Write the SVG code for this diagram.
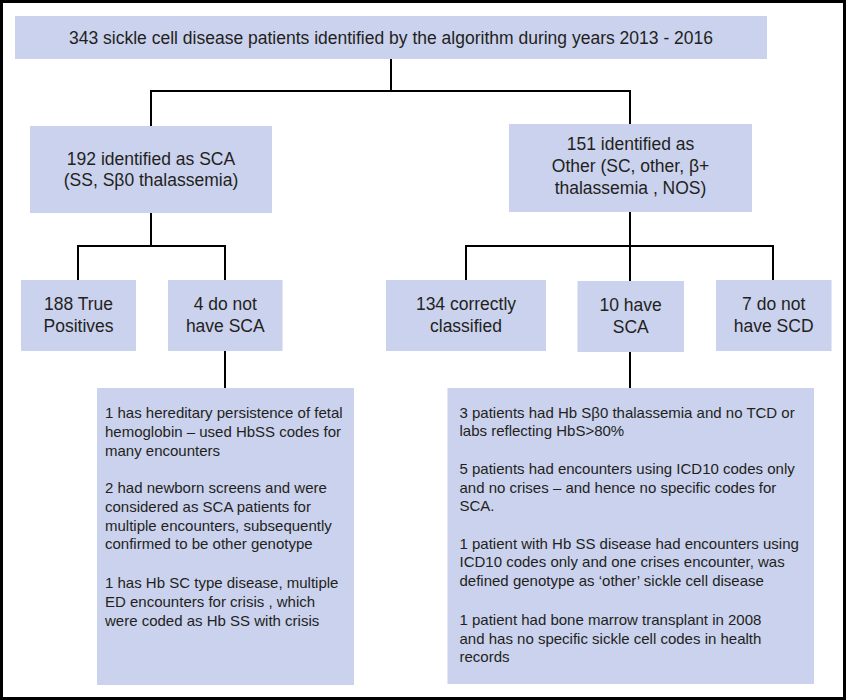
<svg xmlns="http://www.w3.org/2000/svg" width="846" height="700" viewBox="0 0 846 700">
<style>
.box{fill:#cad2ee;}
.t{font-family:"Liberation Sans",Arial,sans-serif;font-size:17.5px;fill:#231f20;text-anchor:middle;}
.b{font-family:"Liberation Sans",Arial,sans-serif;font-size:15px;fill:#231f20;}
.c{fill:none;stroke:#000;stroke-width:2;}
</style>
<rect x="1.5" y="1.5" width="843" height="697" fill="#fff" stroke="#000" stroke-width="3"/>
<g id="connectors" class="c">
<path d="M391 59V91M151 91H631M151 90V126M630 90V125"/>
<path d="M151 213V246M78 246H226M78 245V280M225 245V280"/>
<path d="M630 212V246M466 246H774M466 245V280M630 245V281M773 245V280"/>
<path d="M225 350V388M630 351V388"/>
</g>
<g id="n-top"><rect class="box" x="15" y="16" width="752" height="43"/>
<text class="t" x="391" y="43.5">343 sickle cell disease patients identified by the algorithm during years 2013 - 2016</text></g>
<g id="n-sca"><rect class="box" x="30" y="126" width="242" height="87"/>
<text class="t" x="151" y="164.5">192 identified as SCA</text><text class="t" x="151" y="186">(SS, Sβ0 thalassemia)</text></g>
<g id="n-other"><rect class="box" x="509" y="124" width="243" height="88"/>
<text class="t" x="630.5" y="149.5">151 identified as</text><text class="t" x="630.5" y="171.5">Other (SC, other, β+</text><text class="t" x="630.5" y="193.5">thalassemia , NOS)</text></g>
<g id="n-tp"><rect class="box" x="21" y="280" width="115" height="71"/>
<text class="t" x="78.5" y="310">188 True</text><text class="t" x="78.5" y="331.7">Positives</text></g>
<g id="n-notsca"><rect class="box" x="168" y="280" width="114.5" height="71"/>
<text class="t" x="225.3" y="310">4 do not</text><text class="t" x="225.3" y="331.7">have SCA</text></g>
<g id="n-correct"><rect class="box" x="386" y="280" width="160" height="71"/>
<text class="t" x="466" y="310">134 correctly</text><text class="t" x="466" y="331.7">classified</text></g>
<g id="n-havesca"><rect class="box" x="577.5" y="281" width="106.5" height="71"/>
<text class="t" x="630.7" y="311">10 have</text><text class="t" x="630.7" y="332.7">SCA</text></g>
<g id="n-notscd"><rect class="box" x="716" y="280" width="115.5" height="71"/>
<text class="t" x="773.7" y="310">7 do not</text><text class="t" x="773.7" y="331.7">have SCD</text></g>
<g id="n-left-detail"><rect class="box" x="97" y="388" width="257" height="297"/>
<text class="b" x="105" y="418.3">1 has hereditary persistence of fetal</text>
<text class="b" x="105" y="437">hemoglobin – used HbSS codes for</text>
<text class="b" x="105" y="455.5">many encounters</text>
<text class="b" x="105" y="493.3">2 had newborn screens and were</text>
<text class="b" x="105" y="512">considered as SCA patients for</text>
<text class="b" x="105" y="530.6">multiple encounters, subsequently</text>
<text class="b" x="105" y="549.3">confirmed to be other genotype</text>
<text class="b" x="105" y="588.3">1 has Hb SC type disease, multiple</text>
<text class="b" x="105" y="607">ED encounters for crisis , which</text>
<text class="b" x="105" y="625.6">were coded as Hb SS with crisis</text></g>
<g id="n-right-detail"><rect class="box" x="447.5" y="388" width="366.5" height="296"/>
<text class="b" x="459.5" y="417.5">3 patients had Hb Sβ0 thalassemia and no TCD or</text>
<text class="b" x="459.5" y="436.2">labs reflecting HbS&gt;80%</text>
<text class="b" x="459.5" y="474">5 patients had encounters using ICD10 codes only</text>
<text class="b" x="459.5" y="492.7">and no crises – and hence no specific codes for</text>
<text class="b" x="459.5" y="511.3">SCA.</text>
<text class="b" x="459.5" y="548.5">1 patient with Hb SS disease had encounters using</text>
<text class="b" x="459.5" y="567.2">ICD10 codes only and one crises encounter, was</text>
<text class="b" x="459.5" y="585.8">defined genotype as ‘other’ sickle cell disease</text>
<text class="b" x="459.5" y="625">1 patient had bone marrow transplant in 2008</text>
<text class="b" x="459.5" y="643.7">and has no specific sickle cell codes in health</text>
<text class="b" x="459.5" y="662.3">records</text></g>
</svg>
